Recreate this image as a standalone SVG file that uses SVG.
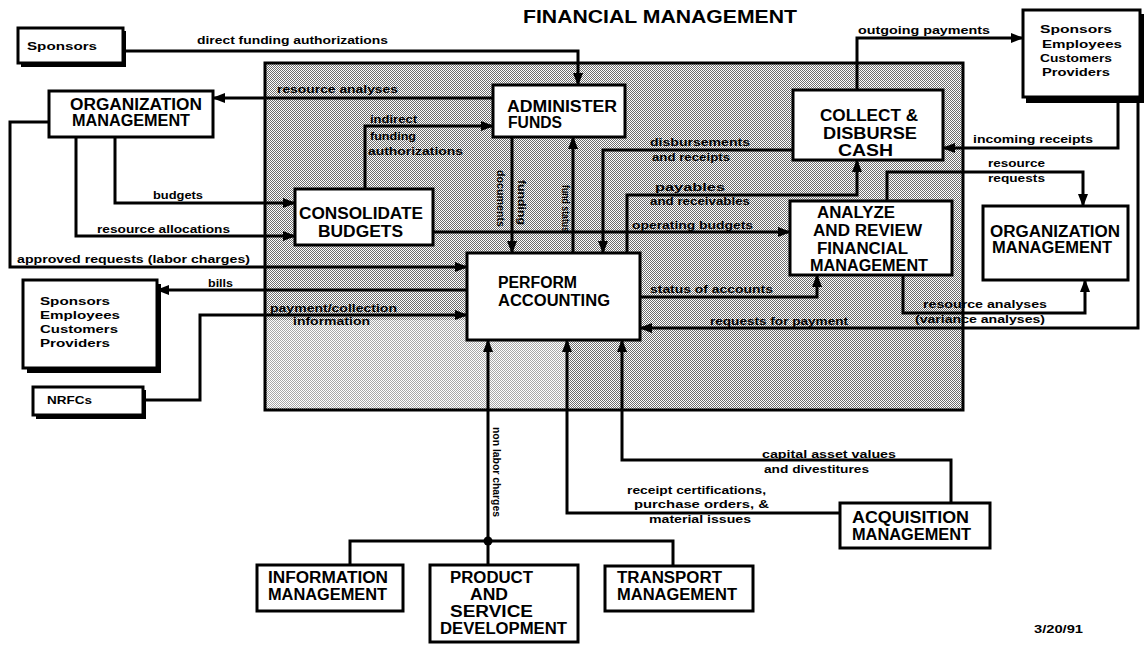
<svg xmlns="http://www.w3.org/2000/svg" width="1148" height="645" viewBox="0 0 1148 645">
  <style>
    .box{fill:#fff;stroke:#000;stroke-width:3}
    .shadow{fill:#000}
    .t{font-family:"Liberation Sans",Arial,sans-serif;font-weight:bold;font-size:19px;fill:#000}
    .n{font-family:"Liberation Sans",Arial,sans-serif;font-weight:bold;font-size:16px;fill:#000}
    .s{font-family:"Liberation Sans",Arial,sans-serif;font-weight:bold;font-size:11px;fill:#000}
    .e{font-family:"Liberation Sans",Arial,sans-serif;font-weight:bold;font-size:10.5px;fill:#000}
    .w{fill:none;stroke:#000;stroke-width:3;stroke-linejoin:miter}
    .a{marker-end:url(#ah)}
  </style>
  <defs>
    <marker id="ah" markerUnits="userSpaceOnUse" markerWidth="13" markerHeight="10" refX="12" refY="5" orient="auto">
      <path d="M0,0 L13,5 L0,10 z" fill="#000"/>
    </marker>
    <pattern id="screen" width="2" height="2" patternUnits="userSpaceOnUse">
      <rect width="2" height="2" fill="#fff"/>
      <rect x="0" y="0" width="1" height="1" fill="#6e6e6e"/>
      <rect x="1" y="1" width="1" height="1" fill="#6e6e6e"/>
    </pattern>
    <pattern id="screenLight" width="2" height="2" patternUnits="userSpaceOnUse">
      <rect width="2" height="2" fill="#fff"/>
      <rect x="0" y="0" width="1" height="1" fill="#a8a8a8"/>
      <rect x="1" y="1" width="1" height="1" fill="#a8a8a8"/>
    </pattern>
  </defs>

  <!-- title -->
  <text class="t" x="523" y="23" textLength="274" lengthAdjust="spacingAndGlyphs">FINANCIAL MANAGEMENT</text>

  <!-- function boundary (screened area) -->
  <g id="boundary">
    <rect x="265" y="63" width="698" height="347" fill="url(#screen)"/>
    <rect x="267" y="320" width="300" height="88" fill="url(#screenLight)"/>
    <rect x="265" y="63" width="698" height="347" fill="none" stroke="#000" stroke-width="3"/>
  </g>

  <!-- connectors -->
  <g id="connectors">
    <path class="w a" d="M123,51 H578 V85"/>
    <path class="w a" d="M493,98 H213"/>
    <path class="w a" d="M365,189 V126 H493"/>
    <path class="w a" d="M115,137 V203 H295"/>
    <path class="w a" d="M76,137 V236 H295"/>
    <path class="w a" d="M49,122 H10 V267 H467"/>
    <path class="w a" d="M467,290 H157"/>
    <path class="w a" d="M143,400 H200 V315 H467"/>
    <path class="w a" d="M512,137 V253"/>
    <path class="w a" d="M573,253 V137"/>
    <path class="w a" d="M793,150 H603 V253"/>
    <path class="w a" d="M627,253 V195 H857 V160"/>
    <path class="w a" d="M433,232 H790"/>
    <path class="w a" d="M640,297 H817 V275"/>
    <path class="w a" d="M1138,97 V328 H640"/>
    <path class="w a" d="M857,90 V38 H1023"/>
    <path class="w a" d="M1118,97 V148 H943"/>
    <path class="w a" d="M887,201 V172 H1083 V206"/>
    <path class="w a" d="M903,275 V313 H1085 V280"/>
    <path class="w a" d="M488,565 V340"/>
    <path class="w" d="M350,565 V541 H673 V566"/>
    <circle cx="488" cy="541" r="4.5" fill="#000"/>
    <path class="w a" d="M840,513 H567 V340"/>
    <path class="w a" d="M951,503 V460 H622 V340"/>

    <!-- connector labels -->
    <text class="e" x="197" y="44" textLength="191" lengthAdjust="spacingAndGlyphs">direct funding authorizations</text>
    <text class="e" x="277" y="93" textLength="121" lengthAdjust="spacingAndGlyphs">resource analyses</text>
    <text class="e" x="370" y="123" textLength="47" lengthAdjust="spacingAndGlyphs">indirect</text>
    <text class="e" x="370" y="140" textLength="46" lengthAdjust="spacingAndGlyphs">funding</text>
    <text class="e" x="368" y="155" textLength="95" lengthAdjust="spacingAndGlyphs">authorizations</text>
    <text class="e" x="153" y="199" textLength="50" lengthAdjust="spacingAndGlyphs">budgets</text>
    <text class="e" x="97" y="233" textLength="133" lengthAdjust="spacingAndGlyphs">resource allocations</text>
    <text class="e" x="17" y="263" textLength="233" lengthAdjust="spacingAndGlyphs">approved requests (labor charges)</text>
    <text class="e" x="208" y="287" textLength="25" lengthAdjust="spacingAndGlyphs">bills</text>
    <text class="e" x="270" y="312" textLength="127" lengthAdjust="spacingAndGlyphs">payment/collection</text>
    <text class="e" x="293" y="325" textLength="77" lengthAdjust="spacingAndGlyphs">information</text>
    <text class="e" transform="translate(497,170) rotate(90)" x="0" y="0" textLength="57" lengthAdjust="spacingAndGlyphs">documents</text>
    <text class="e" transform="translate(518,180) rotate(90)" x="0" y="0" textLength="45" lengthAdjust="spacingAndGlyphs">funding</text>
    <text class="e" transform="translate(562,185) rotate(90)" x="0" y="0" textLength="47" lengthAdjust="spacingAndGlyphs">fund status</text>
    <text class="e" x="650" y="146" textLength="100" lengthAdjust="spacingAndGlyphs">disbursements</text>
    <text class="e" x="652" y="161" textLength="78" lengthAdjust="spacingAndGlyphs">and receipts</text>
    <text class="e" x="655" y="191" textLength="70" lengthAdjust="spacingAndGlyphs">payables</text>
    <text class="e" x="650" y="205" textLength="100" lengthAdjust="spacingAndGlyphs">and receivables</text>
    <text class="e" x="632" y="229" textLength="121" lengthAdjust="spacingAndGlyphs">operating budgets</text>
    <text class="e" x="650" y="293" textLength="123" lengthAdjust="spacingAndGlyphs">status of accounts</text>
    <text class="e" x="710" y="325" textLength="138" lengthAdjust="spacingAndGlyphs">requests for payment</text>
    <text class="e" x="858" y="34" textLength="132" lengthAdjust="spacingAndGlyphs">outgoing payments</text>
    <text class="e" x="973" y="143" textLength="120" lengthAdjust="spacingAndGlyphs">incoming receipts</text>
    <text class="e" x="988" y="167" textLength="57" lengthAdjust="spacingAndGlyphs">resource</text>
    <text class="e" x="988" y="182" textLength="57" lengthAdjust="spacingAndGlyphs">requests</text>
    <text class="e" x="923" y="308" textLength="124" lengthAdjust="spacingAndGlyphs">resource analyses</text>
    <text class="e" x="915" y="323" textLength="130" lengthAdjust="spacingAndGlyphs">(variance analyses)</text>
    <text class="e" transform="translate(493,427) rotate(90)" x="0" y="0" textLength="90" lengthAdjust="spacingAndGlyphs">non labor charges</text>
    <text class="e" x="762" y="458" textLength="134" lengthAdjust="spacingAndGlyphs">capital asset values</text>
    <text class="e" x="764" y="473" textLength="105" lengthAdjust="spacingAndGlyphs">and divestitures</text>
    <text class="e" x="627" y="494" textLength="139" lengthAdjust="spacingAndGlyphs">receipt certifications,</text>
    <text class="e" x="634" y="508" textLength="135" lengthAdjust="spacingAndGlyphs">purchase orders, &amp;</text>
    <text class="e" x="649" y="523" textLength="102" lengthAdjust="spacingAndGlyphs">material issues</text>
  </g>

  <!-- nodes -->
  <g id="sponsors-top">
    <rect class="shadow" x="21" y="31" width="105" height="36"/>
    <rect class="box" x="18" y="28" width="105" height="35"/>
    <text class="s" x="27" y="50" textLength="70" lengthAdjust="spacingAndGlyphs">Sponsors</text>
  </g>
  <g id="org-mgmt-left">
    <rect class="box" x="49" y="91" width="164" height="46"/>
    <text class="n" x="70" y="110" textLength="132" lengthAdjust="spacingAndGlyphs">ORGANIZATION</text>
    <text class="n" x="72" y="126" textLength="118" lengthAdjust="spacingAndGlyphs">MANAGEMENT</text>
  </g>
  <g id="administer-funds">
    <rect class="box" x="493" y="85" width="132" height="52"/>
    <text class="n" x="507" y="112" textLength="110" lengthAdjust="spacingAndGlyphs">ADMINISTER</text>
    <text class="n" x="508" y="128" textLength="54" lengthAdjust="spacingAndGlyphs">FUNDS</text>
  </g>
  <g id="collect-disburse">
    <rect class="box" x="793" y="90" width="150" height="70"/>
    <text class="n" x="820" y="121" textLength="98" lengthAdjust="spacingAndGlyphs">COLLECT &amp;</text>
    <text class="n" x="823" y="139" textLength="94" lengthAdjust="spacingAndGlyphs">DISBURSE</text>
    <text class="n" x="838" y="156" textLength="55" lengthAdjust="spacingAndGlyphs">CASH</text>
  </g>
  <g id="sponsors-right">
    <rect class="shadow" x="1026" y="14" width="118" height="89"/>
    <rect class="box" x="1023" y="10" width="117" height="87"/>
    <text class="s" x="1040" y="33" textLength="72" lengthAdjust="spacingAndGlyphs">Sponsors</text>
    <text class="s" x="1042" y="48" textLength="80" lengthAdjust="spacingAndGlyphs">Employees</text>
    <text class="s" x="1040" y="62" textLength="72" lengthAdjust="spacingAndGlyphs">Customers</text>
    <text class="s" x="1042" y="76" textLength="68" lengthAdjust="spacingAndGlyphs">Providers</text>
  </g>
  <g id="consolidate-budgets">
    <rect class="box" x="295" y="189" width="138" height="56"/>
    <text class="n" x="299" y="219" textLength="124" lengthAdjust="spacingAndGlyphs">CONSOLIDATE</text>
    <text class="n" x="318" y="237" textLength="85" lengthAdjust="spacingAndGlyphs">BUDGETS</text>
  </g>
  <g id="analyze-review">
    <rect class="box" x="790" y="201" width="162" height="74"/>
    <text class="n" x="817" y="218" textLength="78" lengthAdjust="spacingAndGlyphs">ANALYZE</text>
    <text class="n" x="813" y="236" textLength="109" lengthAdjust="spacingAndGlyphs">AND REVIEW</text>
    <text class="n" x="817" y="254" textLength="91" lengthAdjust="spacingAndGlyphs">FINANCIAL</text>
    <text class="n" x="810" y="271" textLength="118" lengthAdjust="spacingAndGlyphs">MANAGEMENT</text>
  </g>
  <g id="org-mgmt-right">
    <rect class="box" x="983" y="206" width="145" height="74"/>
    <text class="n" x="990" y="237" textLength="130" lengthAdjust="spacingAndGlyphs">ORGANIZATION</text>
    <text class="n" x="992" y="253" textLength="120" lengthAdjust="spacingAndGlyphs">MANAGEMENT</text>
  </g>
  <g id="perform-accounting">
    <rect class="box" x="467" y="253" width="173" height="87"/>
    <text class="n" x="498" y="288" textLength="79" lengthAdjust="spacingAndGlyphs">PERFORM</text>
    <text class="n" x="498" y="306" textLength="112" lengthAdjust="spacingAndGlyphs">ACCOUNTING</text>
  </g>
  <g id="sponsors-left">
    <rect class="shadow" x="27" y="284" width="134" height="89"/>
    <rect class="box" x="23" y="280" width="134" height="88"/>
    <text class="s" x="40" y="305" textLength="70" lengthAdjust="spacingAndGlyphs">Sponsors</text>
    <text class="s" x="40" y="319" textLength="80" lengthAdjust="spacingAndGlyphs">Employees</text>
    <text class="s" x="40" y="333" textLength="78" lengthAdjust="spacingAndGlyphs">Customers</text>
    <text class="s" x="40" y="347" textLength="70" lengthAdjust="spacingAndGlyphs">Providers</text>
  </g>
  <g id="nrfcs">
    <rect class="shadow" x="36" y="390" width="110" height="29"/>
    <rect class="box" x="33" y="387" width="110" height="28"/>
    <text class="s" x="47" y="404" textLength="45" lengthAdjust="spacingAndGlyphs">NRFCs</text>
  </g>
  <g id="information-mgmt">
    <rect class="box" x="257" y="565" width="146" height="46"/>
    <text class="n" x="268" y="583" textLength="120" lengthAdjust="spacingAndGlyphs">INFORMATION</text>
    <text class="n" x="268" y="600" textLength="119" lengthAdjust="spacingAndGlyphs">MANAGEMENT</text>
  </g>
  <g id="product-service">
    <rect class="box" x="430" y="565" width="148" height="77"/>
    <text class="n" x="450" y="583" textLength="83" lengthAdjust="spacingAndGlyphs">PRODUCT</text>
    <text class="n" x="470" y="600" textLength="38" lengthAdjust="spacingAndGlyphs">AND</text>
    <text class="n" x="450" y="617" textLength="83" lengthAdjust="spacingAndGlyphs">SERVICE</text>
    <text class="n" x="440" y="634" textLength="127" lengthAdjust="spacingAndGlyphs">DEVELOPMENT</text>
  </g>
  <g id="transport-mgmt">
    <rect class="box" x="605" y="566" width="148" height="45"/>
    <text class="n" x="617" y="583" textLength="105" lengthAdjust="spacingAndGlyphs">TRANSPORT</text>
    <text class="n" x="617" y="600" textLength="120" lengthAdjust="spacingAndGlyphs">MANAGEMENT</text>
  </g>
  <g id="acquisition-mgmt">
    <rect class="box" x="840" y="503" width="150" height="45"/>
    <text class="n" x="852" y="523" textLength="117" lengthAdjust="spacingAndGlyphs">ACQUISITION</text>
    <text class="n" x="852" y="540" textLength="119" lengthAdjust="spacingAndGlyphs">MANAGEMENT</text>
  </g>

  <!-- revision date -->
  <text class="s" x="1034" y="633" textLength="49" lengthAdjust="spacingAndGlyphs">3/20/91</text>
</svg>
